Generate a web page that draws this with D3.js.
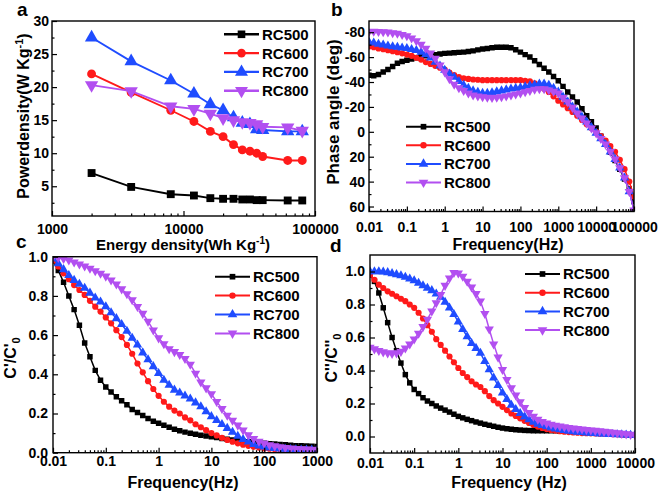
<!DOCTYPE html>
<html><head><meta charset="utf-8">
<script src="https://cdn.jsdelivr.net/npm/d3@7"></script>
<style>
body{margin:0;background:#fff}
svg{display:block}
text{font-family:"Liberation Sans",Arial,sans-serif;font-weight:bold;fill:#000}
</style>
</head><body>
<svg id="chart" width="661" height="494"></svg>
<script>
// ---------- DATA ----------
const seriesNames = ["RC500", "RC600", "RC700", "RC800"];
const seriesColors = ["#000000", "#ff1a1a", "#1f4cff", "#b24ff0"];
const seriesSymbols = ["square", "circle", "triangle", "triangleDown"];

// Panel a: power density vs energy density
const energyA = [2000, 4000, 8000, 12000, 16000, 20000, 24000, 28000, 32000, 36000, 40000, 62000, 80000];
const powerRC500 = [7.0, 4.9, 3.8, 3.6, 3.2, 3.1, 3.1, 3.0, 3.0, 2.9, 2.9, 2.85, 2.85];
const powerRC600 = [22.0, 19.2, 16.5, 14.8, 13.3, 12.5, 11.3, 10.5, 10.3, 10.0, 9.5, 8.9, 8.9];
const powerRC700 = [27.5, 23.9, 21.0, 19.0, 17.4, 16.5, 15.4, 14.6, 14.4, 13.6, 13.5, 13.3, 13.3];
const powerRC800 = [20.3, 19.4, 17.1, 16.7, 16.0, 15.3, 15.0, 14.7, 14.6, 14.4, 14.0, 13.9, 13.4];
const ticksAX = [1000, 10000, 100000];
const ticksAY = [5, 10, 15, 20, 25, 30];

// Panel b: phase angle vs frequency
const freqB = [0.01,0.01334,0.01778,0.02371,0.03162,0.04217,0.05623,0.07499,
  0.1,0.1334,0.1778,0.2371,0.3162,0.4217,0.5623,0.7499,
  1,1.334,1.778,2.371,3.162,4.217,5.623,7.499,
  10,13.34,17.78,23.71,31.62,42.17,56.23,74.99,
  100,133.4,177.8,237.1,316.2,421.7,562.3,749.9,
  1000,1334,1778,2371,3162,4217,5623,7499,
  10000,13335,17783,23714,31623,42170,56234,74989,
  100000];
const phaseRC500 = [-45.5,-45,-46,-48,-50,-52.5,-55,-56.5,
  -57.5,-58.5,-59.5,-60.5,-61,-61.5,-62,-62.5,
  -63,-63.2,-63.5,-63.8,-64,-64.5,-65,-65.8,
  -66.5,-67,-67.5,-68,-68,-68,-67.5,-66,
  -64,-62,-60,-57,-54,-51,-48,-44.5,
  -41,-36.5,-32,-28,-24,-18.5,-13,-8,
  -3,3.5,10,16.5,23,30,38,46,
  56];
const phaseRC600 = [-68.5,-68,-67,-66.3,-65.5,-64.8,-64,-63,
  -62,-61,-59.5,-58,-56,-54.5,-53,-51.5,
  -50,-47.5,-45.5,-44,-43,-42.5,-42,-41.8,
  -41.5,-41.5,-41.5,-41.5,-41.5,-41.5,-41.5,-41.5,
  -41.5,-41,-40.5,-39,-37,-34.5,-32,-28.5,
  -25,-22,-19,-16,-13,-9.5,-6,-3,
  0,3.5,7,11.5,16,22.5,30,40,
  52];
const phaseRC700 = [-72,-71.5,-70.5,-69.8,-69,-68.5,-68,-67.5,
  -67,-66.3,-65.5,-64,-62,-59.5,-56,-53,
  -49.5,-46.5,-44,-40.5,-37.5,-35,-33,-31.8,
  -31,-31,-31.5,-32.2,-33,-33.8,-34.5,-35,
  -35.5,-36.2,-37,-37.8,-38.5,-38.5,-37.5,-35,
  -32,-28,-24,-20,-16,-12,-8,-3.5,
  1,5.5,10,16,22,29,37,48,
  63];
const phaseRC800 = [-80.5,-80.7,-80.5,-80.3,-80,-79.5,-79,-78,
  -77,-75.2,-73,-70.2,-67,-63.2,-59,-53.5,
  -48,-42.5,-38,-35.2,-33,-31,-29.5,-28.6,
  -28,-27.7,-27.5,-27.7,-28,-28.7,-29.5,-30.2,
  -31,-32,-33,-34,-34.5,-34.5,-33.5,-32.5,
  -31,-27.5,-24,-19.5,-15,-11,-7,-3,
  1,5.5,10,16,22,29,37,48,
  63];
const ticksBX = [0.01, 0.1, 1, 10, 100, 1000, 10000, 100000];
const ticksBY = [-80, -60, -40, -20, 0, 20, 40, 60];

// Panels c and d: normalised capacitance vs frequency
const freqD = [0.01,0.01259,0.01585,0.01995,0.02512,0.03162,0.03981,0.05012,0.0631,0.07943,
  0.1,0.1259,0.1585,0.1995,0.2512,0.3162,0.3981,0.5012,0.631,0.7943,
  1,1.259,1.585,1.995,2.512,3.162,3.981,5.012,6.31,7.943,
  10,12.59,15.85,19.95,25.12,31.62,39.81,50.12,63.1,79.43,
  100,125.9,158.5,199.5,251.2,316.2,398.1,501.2,631,794.3,
  1000,1259,1585,1995,2512,3162,3981,5012,6310,7943,
  10000];
const freqC = freqD.slice(0, 51);
const cReRC500 = [0.98,0.93,0.87,0.80,0.73,0.65,0.56,0.49,0.42,0.37,
  0.335,0.31,0.285,0.265,0.245,0.22,0.205,0.19,0.175,0.16,
  0.15,0.14,0.13,0.12,0.112,0.105,0.099,0.094,0.089,0.085,
  0.081,0.077,0.073,0.069,0.065,0.062,0.059,0.056,0.053,0.05,
  0.048,0.046,0.044,0.042,0.04,0.038,0.036,0.035,0.034,0.033,
  0.032];
const cReRC600 = [0.98,0.95,0.915,0.885,0.855,0.83,0.805,0.775,0.745,0.72,
  0.69,0.66,0.625,0.59,0.55,0.505,0.455,0.41,0.365,0.325,
  0.29,0.26,0.235,0.215,0.2,0.18,0.165,0.145,0.13,0.115,
  0.10,0.088,0.076,0.065,0.056,0.048,0.041,0.035,0.03,0.026,
  0.022,0.02,0.018,0.017,0.016,0.015,0.014,0.013,0.013,0.012,
  0.012];
const cReRC700 = [0.99,0.965,0.935,0.905,0.88,0.86,0.84,0.815,0.79,0.77,
  0.745,0.715,0.685,0.655,0.62,0.585,0.55,0.51,0.475,0.44,
  0.405,0.37,0.345,0.32,0.305,0.29,0.275,0.255,0.235,0.21,
  0.185,0.165,0.145,0.125,0.105,0.085,0.068,0.055,0.043,0.035,
  0.03,0.025,0.022,0.02,0.018,0.017,0.016,0.015,0.014,0.014,
  0.013];
const cReRC800 = [1.0,0.995,0.99,0.982,0.972,0.962,0.952,0.94,0.928,0.915,
  0.9,0.88,0.86,0.835,0.81,0.78,0.745,0.71,0.67,0.625,
  0.585,0.555,0.53,0.515,0.5,0.48,0.45,0.405,0.36,0.33,
  0.30,0.26,0.225,0.19,0.165,0.14,0.115,0.09,0.072,0.058,
  0.048,0.04,0.034,0.029,0.026,0.023,0.021,0.019,0.018,0.017,
  0.016];
const cImRC500 = [0.98,0.94,0.87,0.78,0.69,0.60,0.52,0.445,0.375,0.325,
  0.285,0.26,0.235,0.215,0.2,0.185,0.172,0.16,0.148,0.135,
  0.122,0.113,0.104,0.096,0.088,0.081,0.074,0.068,0.062,0.056,
  0.051,0.047,0.044,0.041,0.039,0.037,0.036,0.035,0.035,0.035,
  0.035,0.035,0.035,0.034,0.033,0.032,0.031,0.03,0.029,0.027,
  0.026,0.024,0.022,0.02,0.018,0.016,0.014,0.012,0.011,0.01,
  0.009];
const cImRC600 = [0.98,0.95,0.92,0.90,0.88,0.865,0.85,0.835,0.82,0.80,
  0.78,0.75,0.715,0.675,0.635,0.59,0.555,0.52,0.485,0.45,
  0.415,0.385,0.36,0.335,0.315,0.3,0.275,0.245,0.22,0.2,
  0.18,0.16,0.14,0.125,0.11,0.095,0.082,0.07,0.06,0.052,
  0.045,0.04,0.036,0.032,0.029,0.027,0.025,0.023,0.021,0.02,
  0.019,0.018,0.017,0.016,0.015,0.014,0.013,0.012,0.011,0.01,
  0.009];
const cImRC700 = [1.0,1.0,1.0,0.998,0.994,0.988,0.982,0.975,0.966,0.956,
  0.945,0.93,0.915,0.9,0.885,0.865,0.845,0.815,0.78,0.74,
  0.695,0.65,0.605,0.565,0.535,0.505,0.455,0.405,0.355,0.31,
  0.265,0.225,0.19,0.165,0.14,0.12,0.103,0.088,0.076,0.068,
  0.06,0.053,0.047,0.042,0.037,0.033,0.03,0.027,0.025,0.023,
  0.021,0.019,0.017,0.016,0.014,0.013,0.012,0.011,0.01,0.009,
  0.008];
const cImRC800 = [0.54,0.53,0.52,0.512,0.506,0.503,0.506,0.515,0.535,0.56,
  0.59,0.625,0.665,0.71,0.76,0.81,0.86,0.915,0.96,0.993,
  0.99,0.97,0.94,0.905,0.865,0.82,0.745,0.65,0.56,0.48,
  0.405,0.345,0.295,0.25,0.21,0.175,0.145,0.122,0.104,0.09,
  0.08,0.073,0.067,0.062,0.058,0.054,0.05,0.047,0.044,0.041,
  0.039,0.036,0.033,0.03,0.027,0.024,0.021,0.018,0.015,0.012,
  0.01];
const ticksCX = [0.01, 0.1, 1, 10, 100, 1000];
const ticksCY = [0, 0.2, 0.4, 0.6, 0.8, 1.0];
const ticksDX = [0.01, 0.1, 1, 10, 100, 1000, 10000];
const ticksDY = [0, 0.2, 0.4, 0.6, 0.8, 1.0];

// ---------- DRAWING ----------
const svg = d3.select("#chart");
const FONT = '"Liberation Sans", Arial, sans-serif';

function symbolPath(kind, size) {
  if (kind === "square") return d3.symbol(d3.symbolSquare, size)();
  if (kind === "circle") return d3.symbol(d3.symbolCircle, size)();
  return d3.symbol(d3.symbolTriangle, size)();
}
function drawMarker(g, kind, cx, cy, size, color) {
  const s = kind.startsWith("triangle") ? size * 1.25 : size;
  g.append("path")
    .attr("d", symbolPath(kind, s))
    .attr("transform", `translate(${cx},${cy})` + (kind === "triangleDown" ? " rotate(180)" : ""))
    .attr("fill", color).attr("stroke", "none");
}
function logMinors(lo, hi) {
  const out = [];
  for (let d = Math.floor(Math.log10(lo)); d < Math.ceil(Math.log10(hi)); d++) {
    for (let m = 2; m <= 9; m++) {
      const v = m * Math.pow(10, d);
      if (v > lo && v < hi) out.push(v);
    }
  }
  return out;
}
function fmtNum(v) { return String(+v.toPrecision(6)); }

function panel(cfg) {
  const g = svg.append("g");
  const x = d3.scaleLog().domain(cfg.xDomain).range([cfg.left, cfg.right]);
  const y = d3.scaleLinear().domain(cfg.yDomain).range([cfg.bottom, cfg.top]);
  const clipId = "clip" + cfg.id;
  svg.append("clipPath").attr("id", clipId).append("rect")
    .attr("x", cfg.left).attr("y", cfg.top)
    .attr("width", cfg.right - cfg.left).attr("height", cfg.bottom - cfg.top);
  const plot = g.append("g").attr("clip-path", `url(#${clipId})`);

  cfg.series.forEach((vals, i) => {
    const pts = cfg.xs.map((xv, j) => [xv, vals[j]]);
    const line = d3.line().x(d => x(d[0])).y(d => y(d[1]));
    plot.append("path").datum(pts).attr("d", line)
      .attr("fill", "none").attr("stroke", seriesColors[i]).attr("stroke-width", cfg.lineW);
    pts.forEach(p => drawMarker(plot, seriesSymbols[i], x(p[0]), y(p[1]), cfg.markSize, seriesColors[i]));
  });

  // axes (inward ticks)
  const xAxis = d3.axisBottom(x).tickValues(cfg.xTicks).tickFormat(fmtNum).tickSize(-5).tickPadding(cfg.xPad);
  const xMinor = d3.axisBottom(x).tickValues(logMinors(cfg.xDomain[0], cfg.xDomain[1])).tickFormat("").tickSize(-2.5);
  const yAxis = d3.axisLeft(y).tickValues(cfg.yTicks).tickFormat(cfg.yFmt).tickSize(-5).tickPadding(cfg.yPad);
  const yMinor = d3.axisLeft(y).tickValues(cfg.yMinor).tickFormat("").tickSize(-2.5);
  [[xAxis, "x"], [xMinor, "x"], [yAxis, "y"], [yMinor, "y"]].forEach(([ax, t]) => {
    const ag = g.append("g")
      .attr("transform", t === "x" ? `translate(0,${cfg.bottom})` : `translate(${cfg.left},0)`)
      .call(ax);
    ag.select(".domain").remove();
    ag.selectAll("line").attr("stroke", "#000").attr("stroke-width", 1.2);
    ag.selectAll("text").attr("font-family", FONT).attr("font-weight", "bold").attr("font-size", 14).attr("fill", "#000");
  });
  g.append("rect").attr("x", cfg.left).attr("y", cfg.top)
    .attr("width", cfg.right - cfg.left).attr("height", cfg.bottom - cfg.top)
    .attr("fill", "none").attr("stroke", "#000").attr("stroke-width", 1.4);

  // legend
  seriesNames.forEach((name, i) => {
    const ly = cfg.legY + i * cfg.legStep;
    g.append("line").attr("x1", cfg.legX).attr("x2", cfg.legX + 35).attr("y1", ly).attr("y2", ly)
      .attr("stroke", seriesColors[i]).attr("stroke-width", cfg.lineW + 0.5);
    drawMarker(g, seriesSymbols[i], cfg.legX + 17.5, ly, cfg.legMark, seriesColors[i]);
    g.append("text").attr("x", cfg.legX + 38).attr("y", ly).attr("dy", "0.36em")
      .attr("font-size", 15).text(name);
  });
  return g;
}

function rotTitle(cx, cy, fs, parts) {
  const t = svg.append("text").attr("transform", `translate(${cx},${cy}) rotate(-90)`)
    .attr("text-anchor", "middle").attr("font-size", fs);
  parts.forEach(p => {
    const s = t.append("tspan").text(p.t);
    if (p.dy) s.attr("dy", p.dy);
    if (p.fs) s.attr("font-size", p.fs);
  });
  return t;
}
function hTitle(cx, cy, fs, parts) {
  const t = svg.append("text").attr("x", cx).attr("y", cy)
    .attr("text-anchor", "middle").attr("font-size", fs);
  parts.forEach(p => {
    const s = t.append("tspan").text(p.t);
    if (p.dy) s.attr("dy", p.dy);
    if (p.fs) s.attr("font-size", p.fs);
  });
  return t;
}

// Panel a
panel({
  id: "a", left: 52, right: 315, top: 21, bottom: 216,
  xDomain: [1000, 100000], yDomain: [0.5, 30],
  xs: energyA, series: [powerRC500, powerRC600, powerRC700, powerRC800],
  xTicks: ticksAX, yTicks: ticksAY, yMinor: [2.5, 7.5, 12.5, 17.5, 22.5, 27.5],
  yFmt: d => String(d), xPad: 8, yPad: 3,
  lineW: 1.9, markSize: 62, legX: 224, legY: 34.3, legStep: 18.8, legMark: 58
});
// Panel b
panel({
  id: "b", left: 369, right: 634, top: 21, bottom: 211.5,
  xDomain: [0.01, 100000], yDomain: [64, -89],
  xs: freqB, series: [phaseRC500, phaseRC600, phaseRC700, phaseRC800],
  xTicks: ticksBX, yTicks: ticksBY, yMinor: [-70, -50, -30, -10, 10, 30, 50],
  yFmt: d => String(d), xPad: 11, yPad: 4,
  lineW: 1.5, markSize: 30, legX: 406, legY: 126.7, legStep: 18.6, legMark: 32
});
// Panel c
panel({
  id: "c", left: 53, right: 317, top: 256.7, bottom: 452.7,
  xDomain: [0.01, 1000], yDomain: [0, 1],
  xs: freqC, series: [cReRC500, cReRC600, cReRC700, cReRC800],
  xTicks: ticksCX, yTicks: ticksCY, yMinor: [0.1, 0.3, 0.5, 0.7, 0.9],
  yFmt: d3.format(".1f"), xPad: 3, yPad: 5,
  lineW: 1.5, markSize: 30, legX: 215, legY: 276.7, legStep: 18.9, legMark: 32
});
// Panel d
panel({
  id: "d", left: 370, right: 635, top: 255, bottom: 453,
  xDomain: [0.01, 10000], yDomain: [-0.1, 1.1],
  xs: freqD, series: [cImRC500, cImRC600, cImRC700, cImRC800],
  xTicks: ticksDX, yTicks: ticksDY, yMinor: [0.1, 0.3, 0.5, 0.7, 0.9],
  yFmt: d3.format(".1f"), xPad: 5, yPad: 5,
  lineW: 1.5, markSize: 30, legX: 525, legY: 274, legStep: 18.7, legMark: 32
});

// Axis titles
rotTitle(29, 116, 16, [{t: "Powerdensity(W Kg"}, {t: "-1", dy: -6, fs: 11}, {t: ")", dy: 6}]);
hTitle(183, 250, 15, [{t: "Energy density(Wh Kg"}, {t: "-1", dy: -6, fs: 10}, {t: ")", dy: 6}]);
rotTitle(339, 112, 17, [{t: "Phase angle (deg)"}]);
hTitle(508, 250, 16, [{t: "Frequency(Hz)"}]);
rotTitle(16, 358, 16, [{t: "C'/C'"}, {t: "0", dy: 4, fs: 11}]);
hTitle(183, 488, 16, [{t: "Frequency(Hz)"}]);
rotTitle(337, 358, 16, [{t: "C''/C''"}, {t: "0", dy: 4, fs: 11}]);
hTitle(509, 488, 16, [{t: "Frequency (Hz)"}]);

// Panel letters
[["a", 17, 16], ["b", 331, 16], ["c", 16, 248], ["d", 330, 252]].forEach(([l, lx, ly]) => {
  svg.append("text").attr("x", lx).attr("y", ly).attr("font-size", 19).text(l);
});
</script>
</body></html>
